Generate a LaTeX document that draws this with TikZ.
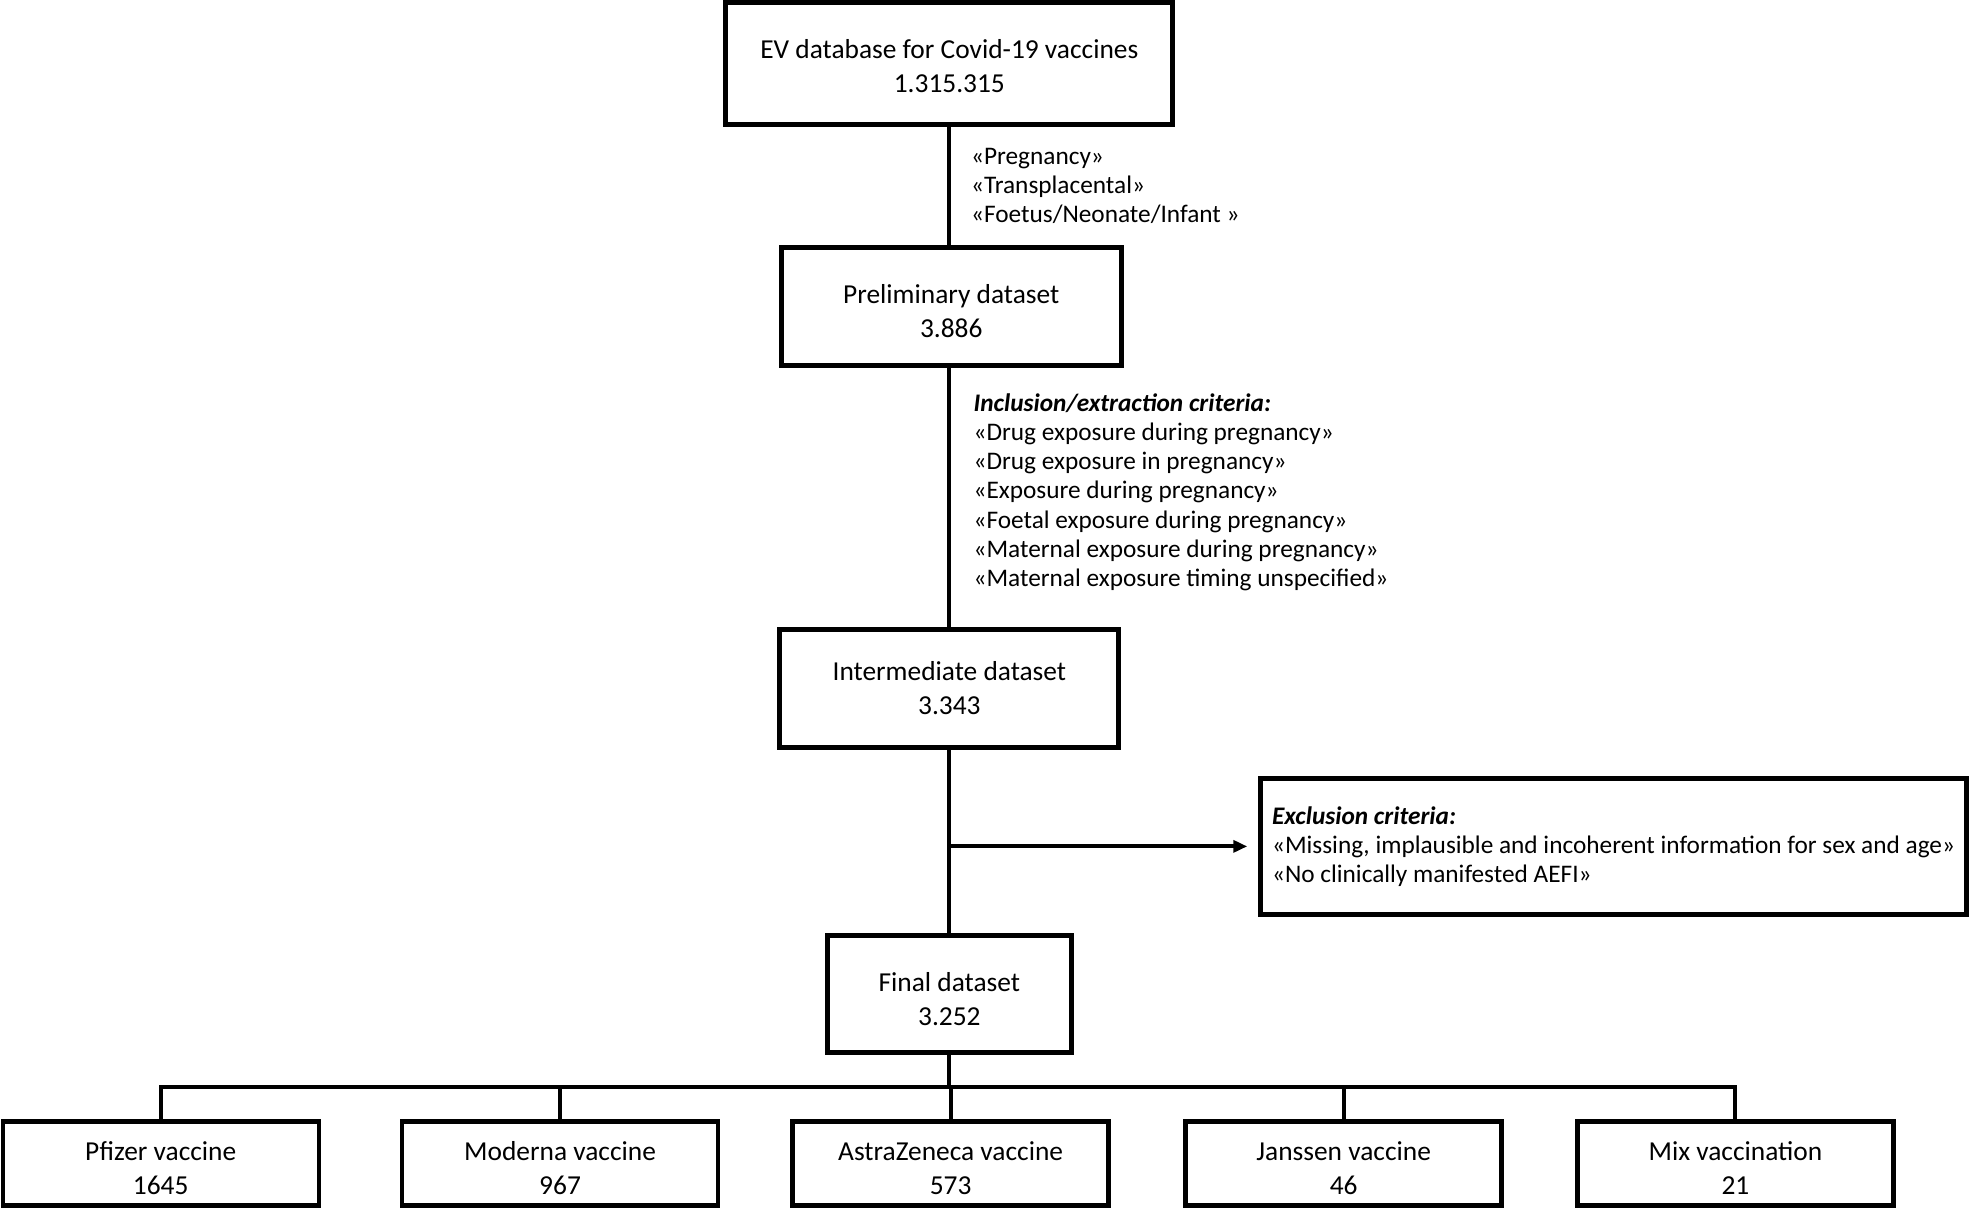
\documentclass[tikz,border=0pt]{standalone}
\usepackage{fontspec}
\setmainfont{Carlito}
\usetikzlibrary{positioning, arrows.meta}
\newcommand{\tstrut}{\rule{0pt}{14.4pt}}

\begin{document}
\begin{tikzpicture}[x=0.6279pt, y=-0.6279pt,
  box/.style={draw, line width=2.4pt, align=center, inner sep=0pt, font=\fontsize{13.7}{17}\selectfont},
  crit/.style={align=left, inner sep=0pt, font=\fontsize{12.65}{14.6}\selectfont},
  link/.style={line width=2pt}]

  \useasboundingbox (0,0) rectangle (1568,963);

  \node[box, minimum width=223.5pt, minimum height=61pt] (Ev) at (756,50.5) {\rule{0pt}{12pt}EV database for Covid-19 vaccines\\1.315.315};
  \node[box, minimum width=170pt, minimum height=59pt] (Pre) at (757.5,244) {\tstrut Preliminary dataset\\3.886};
  \node[box, minimum width=169.5pt, minimum height=59pt] (Int) at (756,548) {Intermediate dataset\\3.343};
  \node[box, minimum width=122pt, minimum height=58.4pt] (Fin) at (756,791.5) {\tstrut Final dataset\\3.252};
  \node[draw, line width=2.4pt, crit, minimum width=353pt, minimum height=67.8pt] (Exc) at (1285,674)
    {\textbf{\textit{Exclusion criteria:}}\\«Missing, implausible and incoherent information for sex and age»\\«No clinically manifested AEFI»};

  \node[crit, anchor=west] (Pt) at (773,148) {«Pregnancy»\\«Transplacental»\\«Foetus/Neonate/Infant »};
  \node[crit, anchor=west] (Ic) at (775,392) {\textbf{\textit{Inclusion/extraction criteria:}}\\«Drug exposure during pregnancy»\\«Drug exposure in pregnancy»\\«Exposure during pregnancy»\\«Foetal exposure during pregnancy»\\«Maternal exposure during pregnancy»\\«Maternal exposure timing unspecified»};

  \foreach \x/\nm/\txt/\num in {128/Pf/Pfizer vaccine/1645, 446/Mo/Moderna vaccine/967,
      757/Az/AstraZeneca vaccine/573, 1070/Ja/Janssen vaccine/46, 1382/Mx/Mix vaccination/21}
    \node[box, line width=2.2pt, minimum width=158pt, minimum height=42pt] (\nm) at (\x,926.5) {\tstrut\txt\\\num};

  \coordinate (bus) at (756,866);

  \draw[link] (Ev.south) -- (Ev.south |- Pre.north);
  \draw[link] (Pre.south -| Ev.south) -- (Ev.south |- Int.north);
  \draw[link] (Int.south) -- (Fin.north);
  \draw[link, -{Triangle[length=7pt,width=6pt]}, shorten >=5.5pt] (Int.south |- Exc.west) -- (Exc.west);
  \draw[link] (Fin.south) -- (bus);
  \draw[link] (Pf.north) |- (Mx.north |- bus) -- (Mx.north);
  \foreach \nm in {Mo, Az, Ja}
    \draw[link] (\nm.north) -- (\nm.north |- bus);

\end{tikzpicture}
\end{document}
